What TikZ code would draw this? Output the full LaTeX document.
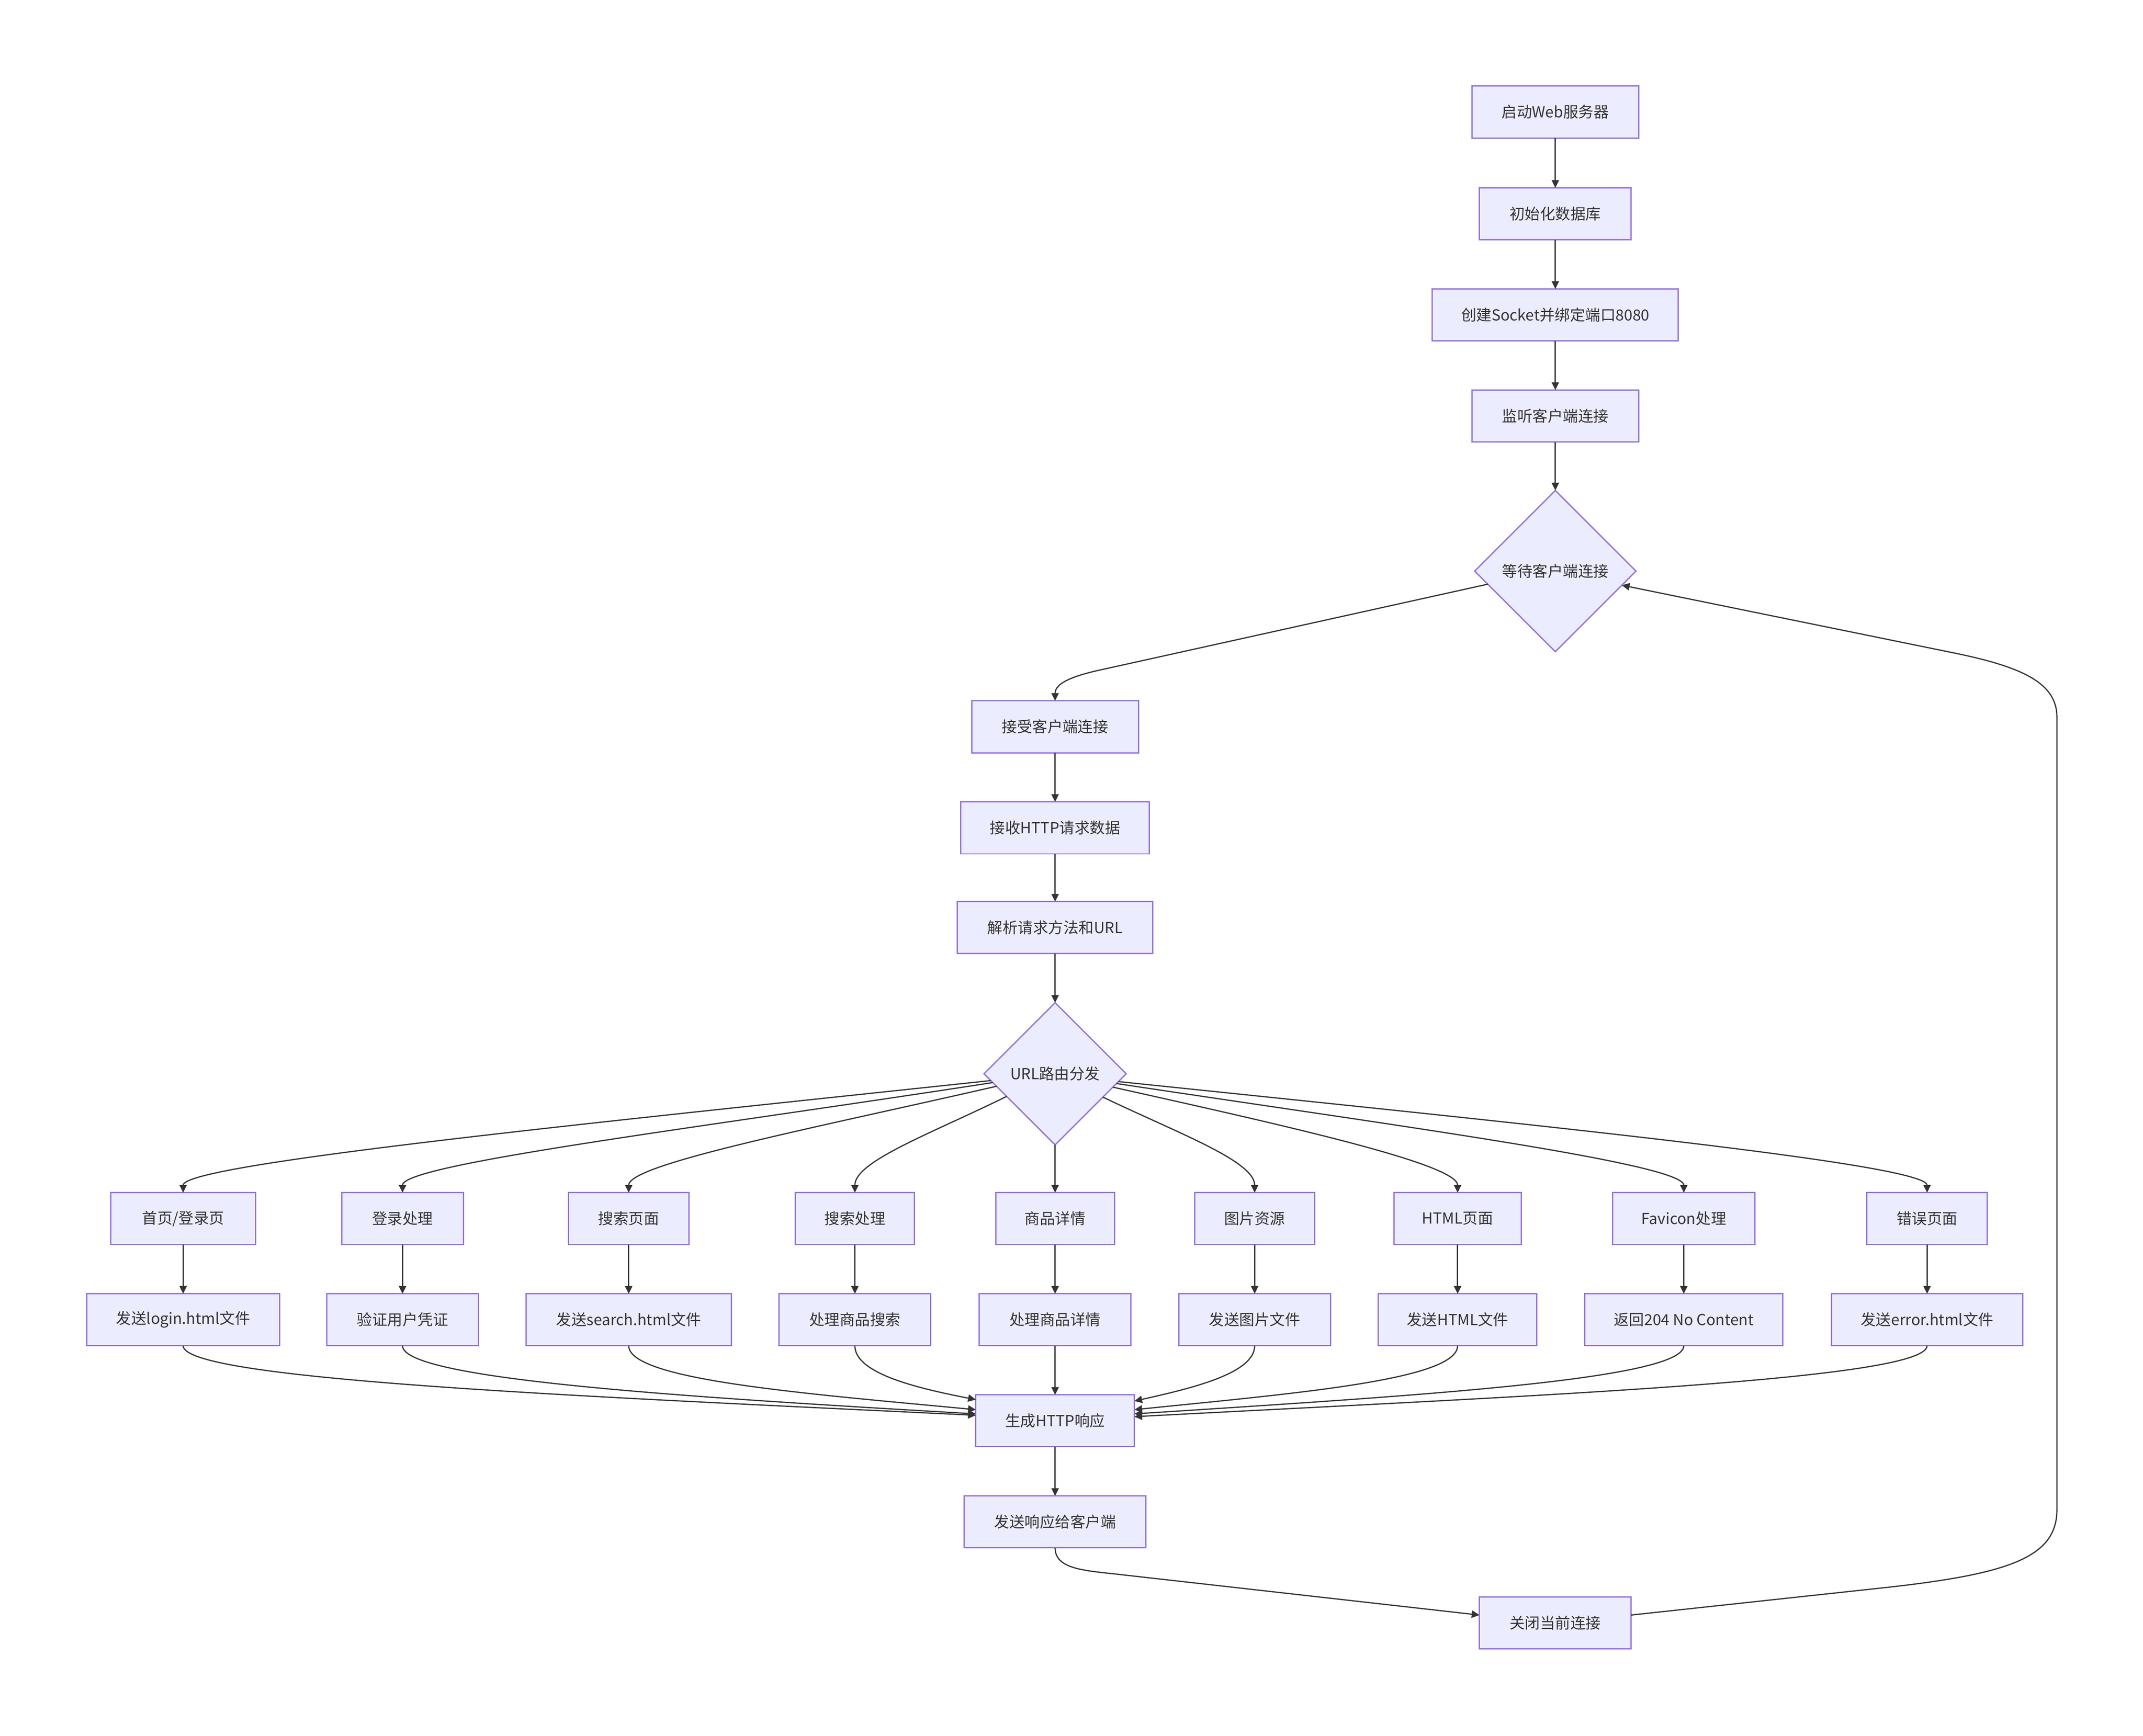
\documentclass[tikz,border=0pt]{standalone}
\usepackage{fontspec}
\setmainfont{Noto Sans CJK SC}
\usetikzlibrary{shapes.geometric,arrows.meta,calc}
\definecolor{mfill}{HTML}{ECECFF}
\definecolor{mstroke}{HTML}{9370DB}
\definecolor{medge}{HTML}{333333}
\definecolor{mtext}{HTML}{333333}
\tikzset{
  box/.style={draw=mstroke, fill=mfill, line width=0.8pt, rectangle,
    minimum width=#1*0.3mm, minimum height=38*0.3mm, inner sep=0pt, outer sep=0pt,
    text=mtext, font=\fontsize{9.5pt}{11.4pt}\selectfont},
  dia/.style={draw=mstroke, fill=mfill, line width=0.8pt, diamond, aspect=1,
    minimum width=#1*0.3mm, minimum height=#1*0.3mm, inner sep=0pt, outer sep=0pt,
    text=mtext, font=\fontsize{9.5pt}{11.4pt}\selectfont},
  arr/.style={draw=medge, line width=0.75pt, -{Triangle[length=1.7mm,width=1.6mm]}}
}
\begin{document}
\begin{tikzpicture}[x=0.3mm,y=-0.3mm]
\useasboundingbox (0,0) rectangle (1568,1270.6);
\fill[white] (0,0) rectangle (1568,1270.6);
% main column top
\node[box=122] (A) at (1138,82) {启动Web服务器};
\node[box=111] (B) at (1138,156.5) {初始化数据库};
\node[box=180] (C) at (1138,230.5) {创建Socket并绑定端口8080};
\node[box=122] (D) at (1138,304.5) {监听客户端连接};
\node[dia=118] (E) at (1138,418) {等待客户端连接};
% middle column
\node[box=122] (F) at (772,532) {接受客户端连接};
\node[box=138] (G) at (772,606) {接收HTTP请求数据};
\node[box=143] (H) at (772,679) {解析请求方法和URL};
\node[dia=104] (I) at (772,786) {URL路由分发};
% row 1
\node[box=106] (r1a) at (134,892) {首页/登录页};
\node[box=89]  (r1b) at (294.5,892) {登录处理};
\node[box=88]  (r1c) at (460,892) {搜索页面};
\node[box=87]  (r1d) at (625.5,892) {搜索处理};
\node[box=87]  (r1e) at (772,892) {商品详情};
\node[box=88]  (r1f) at (918,892) {图片资源};
\node[box=93]  (r1g) at (1066.5,892) {HTML页面};
\node[box=104] (r1h) at (1232,892) {Favicon处理};
\node[box=88]  (r1i) at (1410,892) {错误页面};
% row 2
\node[box=141] (r2a) at (134,966) {发送login.html文件};
\node[box=111] (r2b) at (294.5,966) {验证用户凭证};
\node[box=150] (r2c) at (460,966) {发送search.html文件};
\node[box=111] (r2d) at (625.5,966) {处理商品搜索};
\node[box=111] (r2e) at (772,966) {处理商品详情};
\node[box=111] (r2f) at (918,966) {发送图片文件};
\node[box=116] (r2g) at (1066.5,966) {发送HTML文件};
\node[box=145] (r2h) at (1232,966) {返回204 No Content};
\node[box=140] (r2i) at (1410,966) {发送error.html文件};
% bottom
\node[box=116] (gen) at (772,1040) {生成HTTP响应};
\node[box=133] (resp) at (772,1114) {发送响应给客户端};
\node[box=111] (close) at (1138,1188) {关闭当前连接};

% vertical chain edges
\draw[arr] (A.south) -- (B.north);
\draw[arr] (B.south) -- (C.north);
\draw[arr] (C.south) -- (D.north);
\draw[arr] (D.south) -- (E.north);
\draw[arr] (F.south) -- (G.north);
\draw[arr] (G.south) -- (H.north);
\draw[arr] (H.south) -- (I.north);
\draw[arr] (I.south) -- (r1e.north);
\draw[arr] (gen.south) -- (resp.north);
\foreach \c in {a,b,c,d,e,f,g,h,i}{\draw[arr] (r1\c.south) -- (r2\c.north);}
\draw[arr] (r2e.south) -- (gen.north);

% wait -> accept
\draw[arr] (E.191.8) -- (805,490.4) .. controls (785,494.8) and (772,500) .. (F.north);

% router fan-out
\draw[arr] (I.186.6) .. controls (429.7,822.4) and (134,852) .. (r1a.north);
\draw[arr] (I.188.7) .. controls (510.6,825.8) and (294.5,852) .. (r1b.north);
\draw[arr] (I.192.7) .. controls (595,825.9) and (460,852) .. (r1c.north);
\draw[arr] (I.205.9) .. controls (681.2,829.8) and (625.5,850) .. (r1d.north);
\draw[arr] (I.334.1) .. controls (862.8,829.8) and (918,850) .. (r1f.north);
\draw[arr] (I.347.3) .. controls (940.3,823.9) and (1066.5,852) .. (r1g.north);
\draw[arr] (I.351.3) .. controls (1024.6,824.4) and (1232,852) .. (r1h.north);
\draw[arr] (I.353.4) .. controls (1114.3,822.4) and (1410,852) .. (r1i.north);

% fan-in to response generation
\draw[arr] (r2a.south) .. controls (134,1010) and (423.3,1022) .. (gen.176.5);
\draw[arr] (r2b.south) .. controls (294.5,1010) and (504.3,1022.7) .. (gen.175.4);
\draw[arr] (r2c.south) .. controls (460,1010) and (586.5,1019.8) .. (gen.172.6);
\draw[arr] (r2d.south) .. controls (625.5,1005) and (669.3,1015.8) .. (gen.165.9);
\draw[arr] (r2f.south) .. controls (918,1005) and (873.7,1015.8) .. (gen.14.1);
\draw[arr] (r2g.south) .. controls (1066.5,1010) and (948,1019.8) .. (gen.8.1);
\draw[arr] (r2h.south) .. controls (1232,1010) and (1030.8,1021.9) .. (gen.5.9);
\draw[arr] (r2i.south) .. controls (1410,1010) and (1119.5,1021.7) .. (gen.3.7);

% send -> close
\draw[arr] (resp.south) .. controls +(0,15) and (792,1149.5) .. (815,1152) -- (close.174);

% loop back
\draw[arr] (close.6) -- (1380,1162) .. controls (1470,1152) and (1505,1140) .. (1505,1105)
  -- (1505,525) .. controls (1505,500) and (1480,488.3) .. (1430,478) -- (E.348.2);
\end{tikzpicture}
\end{document}
